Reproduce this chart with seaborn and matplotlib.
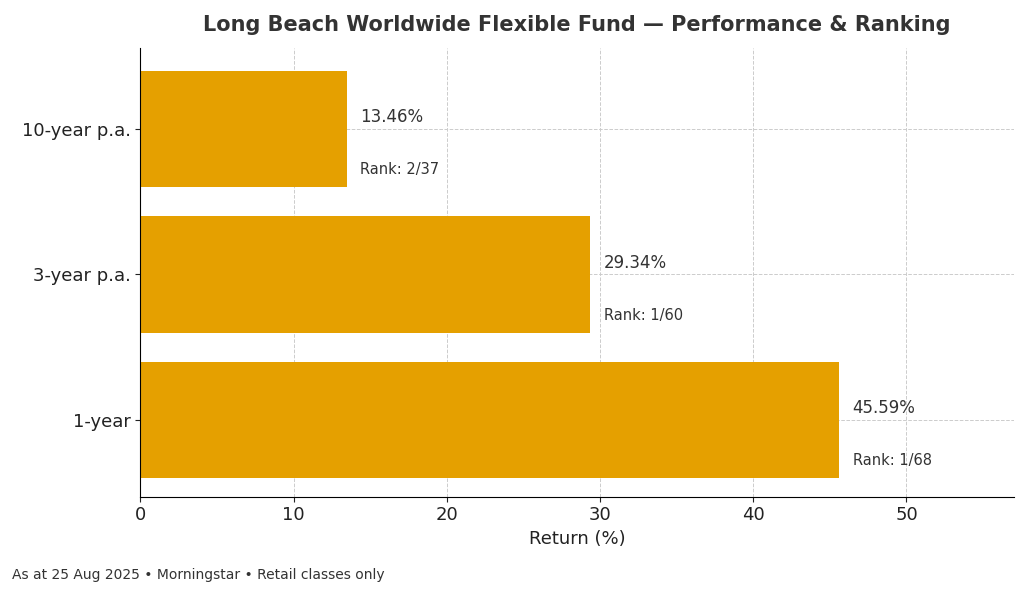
import matplotlib
matplotlib.use("Agg")
import matplotlib.pyplot as plt
import seaborn as sns
import pandas as pd

periods = ["10-year p.a.", "3-year p.a.", "1-year"]
returns = [13.46, 29.34, 45.59]
ranks = ["2/37", "1/60", "1/68"]

df = pd.DataFrame({"period": periods, "ret": returns})

fig, ax = plt.subplots(figsize=(10.24, 5.97), dpi=100)
sns.barplot(data=df, x="ret", y="period", orient="h", order=periods,
            color="#E5A000", saturation=1, width=0.8, ax=ax)

for i, (v, r) in enumerate(zip(returns, ranks)):
    ax.text(v + 0.9, i - 0.08, f"{v:.2f}%", va="center", ha="left",
            fontsize=12, color="#333333")
    ax.text(v + 0.9, i + 0.28, f"Rank: {r}", va="center", ha="left",
            fontsize=10.5, color="#333333")

ax.set_xlim(0, 57)
ax.set_ylim(2.53, -0.56)
ax.set_xticks([0, 10, 20, 30, 40, 50])
ax.grid(True, linestyle="--", color="#cccccc", linewidth=0.7)
ax.set_axisbelow(True)
for s in ["top", "right"]:
    ax.spines[s].set_visible(False)
ax.tick_params(labelsize=13, colors="#222222")
ax.set_xlabel("Return (%)", fontsize=13, color="#222222")
ax.set_ylabel("")
ax.set_title("Long Beach Worldwide Flexible Fund — Performance & Ranking",
             fontsize=15, fontweight="bold", color="#333333", pad=12)
fig.text(0.012, 0.03, "As at 25 Aug 2025 • Morningstar • Retail classes only",
         fontsize=10, color="#333333")
fig.subplots_adjust(left=0.137, right=0.99, top=0.92, bottom=0.168)
fig.savefig("out.png", dpi=100)
